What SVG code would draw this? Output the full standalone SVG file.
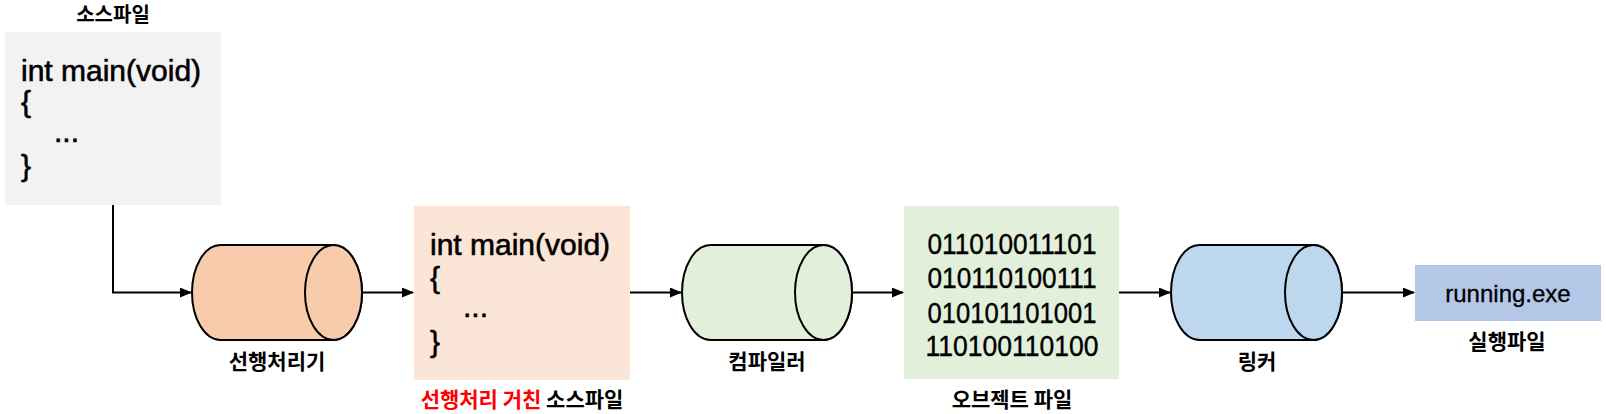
<svg xmlns="http://www.w3.org/2000/svg" width="1606" height="414" viewBox="0 0 1606 414">
<defs>
<style>
.code{font-family:"Liberation Sans",Arial,sans-serif;font-size:30px;fill:#000;stroke:#000;stroke-width:0.6px}
.bin{font-family:"Liberation Sans",Arial,sans-serif;font-size:29px;fill:#000;stroke:#000;stroke-width:0.4px;text-anchor:middle}
.lbl{font-family:"Noto Sans CJK KR",sans-serif;font-size:20px;font-weight:bold;fill:#000;text-anchor:middle}
.cyl{stroke:#000;stroke-width:2}
.conn{fill:none;stroke:#000;stroke-width:2;marker-end:url(#ah)}
</style>
<marker id="ah" markerWidth="12" markerHeight="10" refX="11" refY="5" orient="auto" markerUnits="userSpaceOnUse">
<path d="M0,0 L12,5 L0,10 Z" fill="#000"/>
</marker>
</defs>
<rect width="1606" height="414" fill="#fff"/>
<g id="connectors">
<path class="conn" d="M113,205 V292.5 H191"/>
<path class="conn" d="M362,292.5 H413"/>
<path class="conn" d="M630,292.5 H681"/>
<path class="conn" d="M852,292.5 H903"/>
<path class="conn" d="M1119,292.5 H1170"/>
<path class="conn" d="M1342,292.5 H1414"/>
</g>
<g id="source">
<text class="lbl" x="113" y="22">소스파일</text>
<rect x="5" y="32" width="216" height="173" fill="#f2f2f2"/>
<text class="code" x="21" y="81">int main(void)</text>
<text class="code" x="21" y="112">{</text>
<text class="code" x="54" y="142">...</text>
<text class="code" x="21" y="176">}</text>
</g>
<g id="preprocessor">
<path class="cyl" fill="#f8cbad" d="M220.5,245 H333.5 A28.5,47.5 0 0 1 333.5,340 H220.5 A28.5,47.5 0 0 1 220.5,245 Z"/>
<ellipse class="cyl" fill="#f8cbad" cx="333.5" cy="292.5" rx="28.5" ry="47.5"/>
<text class="lbl" x="277" y="369" style="font-size:21px">선행처리기</text>
</g>
<g id="preprocessed">
<rect x="414" y="206" width="216" height="174" fill="#fbe5d6"/>
<text class="code" x="430" y="255">int main(void)</text>
<text class="code" x="430" y="288">{</text>
<text class="code" x="463" y="317">...</text>
<text class="code" x="430" y="352">}</text>
<text class="lbl" x="522" y="407" style="font-size:21px"><tspan fill="#ff0000">선행처리 거친</tspan> 소스파일</text>
</g>
<g id="compiler">
<path class="cyl" fill="#e2efda" d="M710.5,245 H823.5 A28.5,47.5 0 0 1 823.5,340 H710.5 A28.5,47.5 0 0 1 710.5,245 Z"/>
<ellipse class="cyl" fill="#e2efda" cx="823.5" cy="292.5" rx="28.5" ry="47.5"/>
<text class="lbl" x="767" y="369" style="font-size:21px">컴파일러</text>
</g>
<g id="object">
<rect x="904" y="206" width="215" height="173" fill="#e2efda"/>
<text class="bin" x="1012" y="254" textLength="169" lengthAdjust="spacingAndGlyphs">011010011101</text>
<text class="bin" x="1012" y="288" textLength="169" lengthAdjust="spacingAndGlyphs">010110100111</text>
<text class="bin" x="1012" y="323" textLength="169" lengthAdjust="spacingAndGlyphs">010101101001</text>
<text class="bin" x="1012" y="356" textLength="173" lengthAdjust="spacingAndGlyphs">110100110100</text>
<text class="lbl" x="1012" y="407" style="font-size:21px">오브젝트 파일</text>
</g>
<g id="linker">
<path class="cyl" fill="#bdd7ee" d="M1199.5,245 H1313.5 A28.5,47.5 0 0 1 1313.5,340 H1199.5 A28.5,47.5 0 0 1 1199.5,245 Z"/>
<ellipse class="cyl" fill="#bdd7ee" cx="1313.5" cy="292.5" rx="28.5" ry="47.5"/>
<text class="lbl" x="1257" y="369" style="font-size:21px">링커</text>
</g>
<g id="executable">
<rect x="1415" y="265" width="186" height="56" fill="#b4c7e7"/>
<text x="1508" y="302" style="font-family:'Liberation Sans',Arial,sans-serif;font-size:24px;text-anchor:middle;stroke:#000;stroke-width:0.3px">running.exe</text>
<text class="lbl" x="1507" y="349" style="font-size:21px">실행파일</text>
</g>
</svg>
